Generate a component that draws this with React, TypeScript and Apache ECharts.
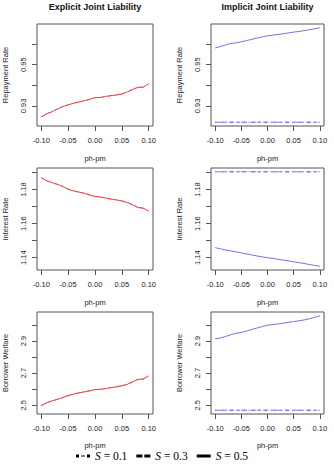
import React, { useEffect, useRef } from "react";
import * as echarts from "echarts";

// price gap between high- and low-type borrowers
const phpm = [
  -0.1, -0.09, -0.08, -0.07, -0.06, -0.05, -0.04, -0.03, -0.02, -0.01, 0.0,
  0.01, 0.02, 0.03, 0.04, 0.05, 0.06, 0.07, 0.08, 0.09, 0.1,
];
const phpmEnds = [-0.1, 0.1];

const sNames = ["S = 0.1", "S = 0.3", "S = 0.5"];

// Explicit joint liability: the three S levels coincide
const repayExplicit = [
  0.9247, 0.9262, 0.9272, 0.9285, 0.9297, 0.9305, 0.9313, 0.9319, 0.9325, 0.9332, 0.934,
  0.9341, 0.9346, 0.935, 0.9353, 0.9358, 0.9368, 0.938, 0.939, 0.9391, 0.9408,
];
const rateExplicit = [
  1.1869, 1.1852, 1.184, 1.183, 1.1818, 1.1802, 1.1792, 1.1785, 1.1778, 1.1768, 1.1759,
  1.1756, 1.175, 1.1744, 1.1739, 1.1733, 1.1724, 1.171, 1.1695, 1.169, 1.1673,
];
const welfareExplicit = [
  2.498, 2.515, 2.527, 2.537, 2.548, 2.56, 2.569, 2.577, 2.583, 2.59, 2.598,
  2.599, 2.604, 2.61, 2.615, 2.621, 2.63, 2.646, 2.661, 2.663, 2.683,
];

// Implicit joint liability, S = 0.5
const repayImplicitHigh = [
  0.9581, 0.9588, 0.9596, 0.9603, 0.9606, 0.9611, 0.9617, 0.9623, 0.9629, 0.9635, 0.964,
  0.9643, 0.9647, 0.965, 0.9654, 0.9658, 0.9661, 0.9665, 0.967, 0.9674, 0.9679,
];
const rateImplicitHigh = [
  1.1459, 1.1452, 1.1445, 1.144, 1.1434, 1.1428, 1.1422, 1.1416, 1.141, 1.1405, 1.14,
  1.1396, 1.1391, 1.1386, 1.1381, 1.1376, 1.1371, 1.1366, 1.136, 1.1355, 1.135,
];
const welfareImplicitHigh = [
  2.913, 2.919, 2.928, 2.939, 2.948, 2.953, 2.962, 2.972, 2.981, 2.99, 2.998,
  3.002, 3.006, 3.011, 3.016, 3.021, 3.026, 3.031, 3.038, 3.047, 3.057,
];

// Implicit joint liability, S = 0.1 and S = 0.3 (flat, overlapping)
const repayImplicitLow = [0.9221, 0.9221];
const rateImplicitLow = [1.1904, 1.1904];
const welfareImplicitLow = [2.469, 2.469];

const xTicks = [-0.1, -0.05, 0.0, 0.05, 0.1];
const repayTicks = [0.93, 0.94, 0.95, 0.96];
const repayLabels = [0.93, 0.95];
const rateTicks = [1.14, 1.15, 1.16, 1.17, 1.18, 1.19];
const rateLabels = [1.14, 1.16, 1.18];
const welfareTicks = [2.5, 2.6, 2.7, 2.8, 2.9, 3.0];
const welfareLabels = [2.5, 2.7, 2.9];

const RED = "#e23b47";
const BLUE = "#7a6fe0";
const BOX = "#555";
const INK = "#222";
const SANS = "Liberation Sans, Arial, sans-serif";
const SERIF = "Liberation Serif, Times New Roman, serif";

const dashFor: Record<string, any> = {
  "S = 0.1": [1, 3, 4, 3],
  "S = 0.3": [4, 3],
  "S = 0.5": "solid",
};

type Row = {
  label: string;
  explicit: number[];
  implicitHigh: number[];
  implicitLow: number[];
  ticks: number[];
  labels: number[];
  digits: number;
};

const rows: Row[] = [
  {
    label: "Repayment Rate",
    explicit: repayExplicit,
    implicitHigh: repayImplicitHigh,
    implicitLow: repayImplicitLow,
    ticks: repayTicks,
    labels: repayLabels,
    digits: 2,
  },
  {
    label: "Interest Rate",
    explicit: rateExplicit,
    implicitHigh: rateImplicitHigh,
    implicitLow: rateImplicitLow,
    ticks: rateTicks,
    labels: rateLabels,
    digits: 2,
  },
  {
    label: "Borrower Welfare",
    explicit: welfareExplicit,
    implicitHigh: welfareImplicitHigh,
    implicitLow: welfareImplicitLow,
    ticks: welfareTicks,
    labels: welfareLabels,
    digits: 1,
  },
];

// R-style axis limits: data range widened by 4% on each side
function padded(values: number[]) {
  const lo = Math.min(...values);
  const hi = Math.max(...values);
  const pad = (hi - lo) * 0.04;
  return [lo - pad, hi + pad];
}

const PANEL_LEFT = [37, 211];
const PANEL_WIDTH = [116, 113];
const ROW_TOP = [24, 168, 312];
const ROW_HEIGHT = 102;

function buildOption() {
  const grid: any[] = [];
  const xAxis: any[] = [];
  const yAxis: any[] = [];
  const series: any[] = [];
  const [xMin, xMax] = padded(phpm);

  rows.forEach((row, r) => {
    const [yMin, yMax] = padded([...row.explicit, ...row.implicitHigh, ...row.implicitLow]);
    for (let c = 0; c < 2; c++) {
      const idx = r * 2 + c;
      grid.push({
        left: PANEL_LEFT[c],
        width: PANEL_WIDTH[c],
        top: ROW_TOP[r],
        height: ROW_HEIGHT,
        show: true,
        borderColor: BOX,
        borderWidth: 1,
        backgroundColor: "transparent",
      });
      xAxis.push({
        type: "value",
        gridIndex: idx,
        min: xMin,
        max: xMax,
        name: "ph-pm",
        nameLocation: "middle",
        nameGap: r === 2 ? 27 : 28,
        nameTextStyle: { fontSize: 7.5, color: INK, fontFamily: SANS },
        axisLine: { show: false, onZero: false },
        axisTick: { show: true, length: 5, lineStyle: { color: BOX }, customValues: xTicks },
        axisLabel: {
          fontSize: 7.5,
          color: INK,
          fontFamily: SANS,
          margin: 10,
          customValues: xTicks,
          formatter: (v: number) => v.toFixed(2),
        },
        splitLine: { show: false },
      });
      yAxis.push({
        type: "value",
        gridIndex: idx,
        min: yMin,
        max: yMax,
        name: row.label,
        nameLocation: "middle",
        nameGap: 28,
        nameTextStyle: { fontSize: 7.5, color: INK, fontFamily: SANS },
        axisLine: { show: false, onZero: false },
        axisTick: { show: true, length: 5, lineStyle: { color: BOX }, customValues: row.ticks },
        axisLabel: {
          rotate: 90,
          fontSize: 7.5,
          color: INK,
          fontFamily: SANS,
          margin: 10,
          customValues: row.labels,
          formatter: (v: number) => v.toFixed(row.digits),
        },
        splitLine: { show: false },
      });

      const lineSeries = (
        name: string,
        xs: number[],
        ys: number[],
        color: string,
        width: number
      ) => ({
        type: "line",
        name,
        xAxisIndex: idx,
        yAxisIndex: idx,
        data: xs.map((x, i) => [x, ys[i]]),
        symbol: "none",
        silent: true,
        lineStyle: { color, width, type: dashFor[name] },
        itemStyle: { color },
      });

      if (c === 0) {
        // S = 0.1 and S = 0.3 run underneath the S = 0.5 curve
        series.push(lineSeries("S = 0.1", phpm, row.explicit, RED, 0.5));
        series.push(lineSeries("S = 0.3", phpm, row.explicit, RED, 0.5));
        series.push(lineSeries("S = 0.5", phpm, row.explicit, RED, 0.9));
      } else {
        series.push(lineSeries("S = 0.1", phpmEnds, row.implicitLow, BLUE, 1));
        series.push(lineSeries("S = 0.3", phpmEnds, row.implicitLow, BLUE, 1));
        series.push(lineSeries("S = 0.5", phpm, row.implicitHigh, BLUE, 1));
      }
    }
  });

  const titles = ["Explicit Joint Liability", "Implicit Joint Liability"];
  const graphic = titles.map((t, c) => ({
    type: "text",
    x: PANEL_LEFT[c] + PANEL_WIDTH[c] / 2,
    y: 7,
    style: {
      text: t,
      align: "center",
      verticalAlign: "middle",
      font: `bold 9px ${SANS}`,
      fill: "#111",
    },
  }));

  const icons: Record<string, string> = {
    "S = 0.1": "path://M0,0H3V3H0Z M5,1H9V2H5Z M11,0H14V3H11Z",
    "S = 0.3": "path://M0,0H6V3H0Z M8,0H14V3H8Z",
    "S = 0.5": "path://M0,0H14V3H0Z",
  };

  return {
    animation: false,
    textStyle: { fontFamily: SANS },
    grid,
    xAxis,
    yAxis,
    series,
    graphic,
    legend: {
      left: 75,
      top: 449,
      padding: 1,
      itemWidth: 14,
      itemHeight: 3,
      itemGap: 9,
      selectedMode: false,
      data: sNames.map((n) => ({ name: n, icon: icons[n] })),
      itemStyle: { color: "#000", borderWidth: 0 },
      formatter: (name: string) => `{s|S}{n|${name.slice(1)}}`,
      textStyle: {
        color: "#000",
        fontFamily: SERIF,
        fontSize: 11.5,
        lineHeight: 12,
        rich: {
          s: { fontFamily: SERIF, fontStyle: "italic", fontSize: 11.5, lineHeight: 12, color: "#000" },
          n: { fontFamily: SERIF, fontSize: 11.5, lineHeight: 12, color: "#000" },
        },
      },
    },
  };
}

export default function App() {
  const ref = useRef<HTMLDivElement>(null);
  useEffect(() => {
    if (!ref.current) return;
    const chart = echarts.init(ref.current, undefined, { renderer: "svg" });
    chart.setOption(buildOption() as any);
    return () => chart.dispose();
  }, []);
  return (
    <div
      ref={ref}
      style={{ position: "absolute", left: 0, top: 0, width: 334, height: 464, background: "#fff" }}
    />
  );
}
